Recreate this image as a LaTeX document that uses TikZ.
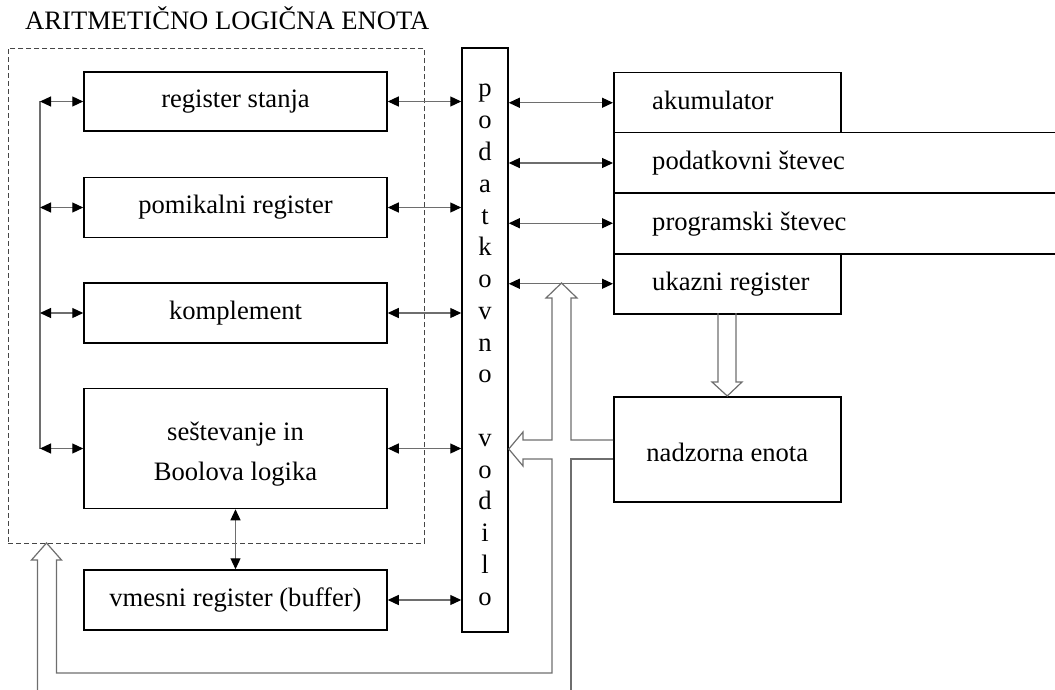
\documentclass[tikz,border=0pt]{standalone}
\usepackage{fontspec}
\setmainfont{Liberation Serif}
\usetikzlibrary{arrows.meta,calc}
\definecolor{lg}{RGB}{110,110,110}
\definecolor{dg}{RGB}{70,70,70}
\begin{document}
\begin{tikzpicture}[x=1pt,y=-1pt,
  box/.style={draw=black,line width=1.5pt,minimum width=303pt,inner sep=0pt,
    font=\fontsize{26.6}{40}\selectfont,align=center},
  rbox/.style={draw=black,line width=1.5pt,inner sep=0pt,anchor=north west},
  conn/.style={draw=lg,line width=1.2pt,{Triangle[black,length=11pt,width=10pt]}-{Triangle[black,length=11pt,width=10pt]}},
  plain/.style={draw=lg,line width=1.2pt},
  hollow/.style={draw=lg,line width=1.2pt,line join=miter},
  txt/.style={font=\fontsize{26.6}{31.75}\selectfont,inner sep=0pt},
  frame/.style={draw=dg,line width=0.9pt,dash pattern=on 5pt off 3pt,inner sep=0pt,anchor=north west}]
\useasboundingbox (0,0) rectangle (1055,690);

% title and dashed ALU frame
\node[txt,anchor=base west] (title) at (25,30) {ARITMETIČNO LOGIČNA ENOTA};
\node[frame,minimum width=416pt,minimum height=495pt] (alu) at (8,48) {};

% left boxes
\node[box,minimum height=59pt] (rs) at (235.5,101.5) {register stanja};
\node[box,minimum height=60pt] (pr) at (235.5,207.5) {pomikalni register};
\node[box,minimum height=60pt] (ko) at (235.5,313) {komplement};
\node[box,minimum height=120pt] (se) at (235.5,448.5) {};
\node[box,draw=none] (set) at ($(se.center)+(0,6)$) {seštevanje in\\Boolova logika};
\node[box,minimum height=60pt] (vm) at (235.5,600) {vmesni register (buffer)};

% bus
\node[draw=black,line width=1.5pt,minimum width=46pt,minimum height=584pt,inner sep=0pt] (bus) at (485,340) {};
\foreach \l [count=\i from 0] in {p,o,d,a,t,k,o,v,n,o}
  \node[txt,anchor=base] (bl\i) at (485,97+31.75*\i) {\l};
\foreach \l [count=\i from 11] in {v,o,d,i,l,o}
  \node[txt,anchor=base] (bl\i) at (485,97+31.75*\i) {\l};

% right register stack
\node[rbox,minimum width=452pt,minimum height=60.5pt] (pd) at (613,132) {};
\node[rbox,minimum width=452pt,minimum height=61pt] (ps) at (613,192) {};
\node[rbox,minimum width=227pt,minimum height=60pt] (ak) at (613,72) {};
\node[rbox,minimum width=227pt,minimum height=60pt] (uk) at (613,253) {};
\node[txt,anchor=base west] (akt) at ($(ak.west)+(39,7)$) {akumulator};
\node[txt,anchor=base west] (pdt) at ($(pd.west)+(39,7)$) {podatkovni števec};
\node[txt,anchor=base west] (pst) at ($(ps.west)+(39,7)$) {programski števec};
\node[txt,anchor=base west] (ukt) at ($(uk.west)+(39,7)$) {ukazni register};
\node[rbox,minimum width=227pt,minimum height=105pt] (nz) at (613,396) {};
\node[txt] (nzt) at ($(nz.center)+(0,3)$) {nadzorna enota};

% connectors left
\coordinate (lb) at (40,0);
\draw[plain] (rs.west -| lb) -- (se.west -| lb);
\foreach \n in {rs,pr,ko,se}
  \draw[conn] (\n.west -| lb) -- (\n.west);
\foreach \n in {rs,pr,ko,se,vm}
  \draw[conn] (\n.east) -- (\n.east -| bus.west);
\draw[conn] (se.south) -- (vm.north);
% connectors right
\foreach \n in {ak,pd,ps,uk}
  \draw[conn] (bus.east |- \n.west) -- (\n.west);

% hollow arrow ukazni -> nadzorna
\draw[hollow] (718,313) -- (718,382) -- (712,382) -- (nz.north) -- (742,382) -- (736,382) -- (736,313);

% hollow control bus
\draw[hollow] (37.5,692) -- (37.5,560) -- (31.5,560) -- (46.5,543) -- (61.5,560) -- (56.5,560)
  -- (56.5,673) -- (552,673) -- (552,459) -- (523,459) -- (523,466) -- (bus.east |- 0,449)
  -- (523,432) -- (523,440) -- (552,440) -- (552,298) -- (546,298) -- (561.5,283)
  -- (577,298) -- (571,298) -- (571,440) -- (nz.west |- 0,440);
\draw[hollow] (nz.west |- 0,459) -- (571,459) -- (571,692);
\end{tikzpicture}
\end{document}
